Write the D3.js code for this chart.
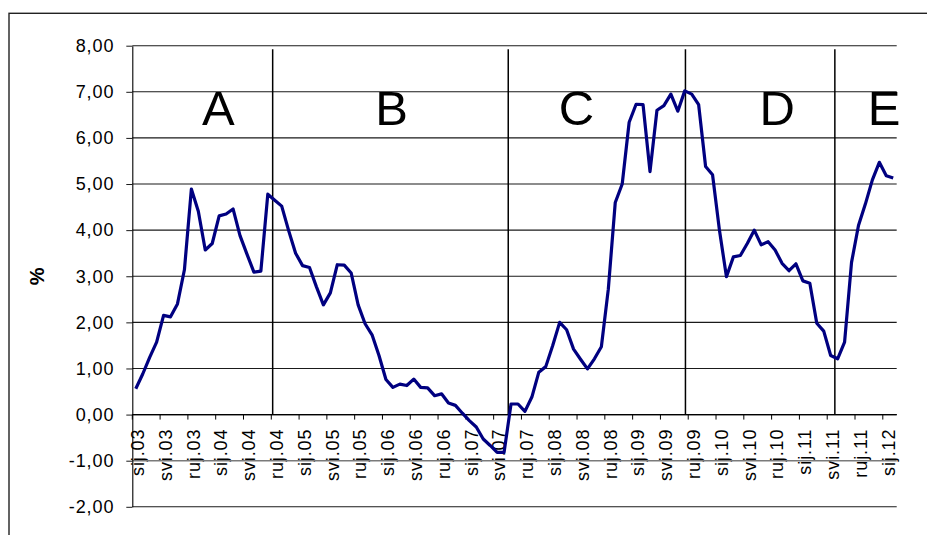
<!DOCTYPE html>
<html lang="hr">
<head>
<meta charset="UTF-8">
<title>Stopa - faze A do E</title>
<script src="https://d3js.org/d3.v7.min.js"></script>
<style>
  body { margin: 0; background: #fff; }
  svg text { font-family: "Liberation Sans", Arial, sans-serif; fill: #000; }
  .tick-label { font-size: 18px; letter-spacing: 0.9px; }
  .phase { font-size: 49px; }
  .axis-title { font-size: 20px; font-weight: bold; }
</style>
</head>
<body>
<div id="chart"></div>
<script>
// month names (Croatian) and years of the series
var monthNames = ["sij", "velj", "ožu", "tra", "svi", "lip", "srp", "kol", "ruj", "lis", "stu", "pro"];
var years = ["03", "04", "05", "06", "07", "08", "09", "10", "11", "12"];

// labels shown under the axis (every 4th month)
var tickLabels = ["sij.03", "svi.03", "ruj.03", "sij.04", "svi.04", "ruj.04", "sij.05", "svi.05", "ruj.05",
  "sij.06", "svi.06", "ruj.06", "sij.07", "svi.07", "ruj.07", "sij.08", "svi.08", "ruj.08",
  "sij.09", "svi.09", "ruj.09", "sij.10", "svi.10", "ruj.10", "sij.11", "svi.11", "ruj.11", "sij.12"];

// monthly values, %, sij.03 .. velj.12
var values = [
  0.56, 0.88, 1.24, 1.57, 2.15, 2.12, 2.40, 3.14, 4.89, 4.41, 3.57, 3.71,
  4.31, 4.35, 4.46, 3.88, 3.48, 3.09, 3.11, 4.78, 4.65, 4.52, 3.99, 3.50,
  3.23, 3.19, 2.77, 2.38, 2.64, 3.25, 3.24, 3.07, 2.38, 1.97, 1.73, 1.28,
  0.76, 0.59, 0.66, 0.63, 0.77, 0.59, 0.58, 0.41, 0.45, 0.25, 0.20, 0.03,
  -0.13, -0.27, -0.53, -0.67, -0.82, -0.82, 0.23, 0.23, 0.07, 0.38, 0.92, 1.04,
  1.50, 2.00, 1.84, 1.42, 1.20, 0.99, 1.21, 1.47, 2.72, 4.60, 5.00, 6.34,
  6.73, 6.72, 5.27, 6.60, 6.70, 6.95, 6.58, 7.02, 6.95, 6.72, 5.38, 5.20,
  3.99, 2.99, 3.42, 3.45, 3.71, 4.00, 3.68, 3.75, 3.57, 3.28, 3.12, 3.27,
  2.90, 2.85, 1.98, 1.81, 1.28, 1.21, 1.57, 3.30, 4.10, 4.57, 5.09, 5.47,
  5.18, 5.13
];

// y axis ticks
var yTicks = [-2, -1, 0, 1, 2, 3, 4, 5, 6, 7, 8];

// phases: letters, where they sit and where each phase ends (in months from sij.03)
var phaseLetters = ["A", "B", "C", "D", "E"];
var phaseLetterAt = [12.4, 37.3, 63.9, 92.8, 108.2];
var phaseBreaks = [20.2, 54.1, 79.6, 101.1];

// build the category list sij.03 .. up to the length of the series
var categories = [];
years.forEach(function (yy) {
  monthNames.forEach(function (m) { categories.push(m + "." + yy); });
});
categories = categories.slice(0, values.length);

var data = categories.map(function (c, i) { return { cat: c, value: values[i] }; });

var W = 927, H = 535;
var plotL = 132.3, plotR = 896.7, plotT = 45.7, plotB = 506.8;

var svg = d3.select("#chart").append("svg")
  .attr("width", W)
  .attr("height", H);

// outer frame (runs off the page on the right and bottom)
svg.append("rect")
  .attr("x", 9).attr("y", 13.3)
  .attr("width", 1000).attr("height", 700)
  .attr("fill", "none")
  .attr("stroke", "#222")
  .attr("stroke-width", 1.4);

var x = d3.scaleBand().domain(categories).range([plotL, plotR]).paddingInner(0).paddingOuter(0);
var y = d3.scaleLinear().domain([-2, 8]).range([plotB, plotT]);
var xc = function (c) { return x(c) + x.bandwidth() / 2; };
var xm = function (m) { return plotL + m * x.bandwidth(); };  // month offset -> pixel

// x labels (drawn before the grid so the -1 line runs over them)
svg.append("g").selectAll("text")
  .data(tickLabels)
  .enter()
  .append("text")
  .attr("class", "tick-label")
  .attr("transform", function (d) { return "translate(" + xc(d) + "," + (y(0) + 14) + ") rotate(-90)"; })
  .attr("dy", "0.46em")
  .attr("text-anchor", "end")
  .text(function (d) { return d; });

// horizontal gridlines
svg.append("g").selectAll("line")
  .data(yTicks)
  .enter()
  .append("line")
  .attr("x1", plotL).attr("x2", plotR)
  .attr("y1", function (d) { return y(d); })
  .attr("y2", function (d) { return y(d); })
  .attr("stroke", function (d) { return d === -1 ? "#7a7a7a" : "#1a1a1a"; })
  .attr("stroke-width", function (d) { return d === -1 ? 1.5 : 1.1; });

// y axis
var yAxis = svg.append("g")
  .attr("transform", "translate(" + plotL + ",0)")
  .call(d3.axisLeft(y).tickValues(yTicks).tickSize(6).tickSizeOuter(0).tickPadding(12)
    .tickFormat(function (d) { return d3.format(".2f")(d).replace(".", ",").replace("\u2212", "-"); }));
yAxis.select(".domain").attr("stroke", "#000").attr("stroke-width", 1.1);
yAxis.selectAll(".tick line").attr("stroke", "#1a1a1a");
yAxis.selectAll(".tick text")
  .attr("class", "tick-label")
  .attr("fill", "#000")
  .style("font-family", "'Liberation Sans', Arial, sans-serif");

// x axis line at zero and tick marks on category boundaries
svg.append("line")
  .attr("x1", plotL).attr("x2", plotR)
  .attr("y1", y(0)).attr("y2", y(0))
  .attr("stroke", "#000").attr("stroke-width", 1.2);

svg.append("g").selectAll("line")
  .data(tickLabels)
  .enter()
  .append("line")
  .attr("x1", function (d) { return x(d); })
  .attr("x2", function (d) { return x(d); })
  .attr("y1", y(0)).attr("y2", y(0) + 5)
  .attr("stroke", "#000");

// phase separators
svg.append("g").selectAll("line")
  .data(phaseBreaks)
  .enter()
  .append("line")
  .attr("x1", function (d) { return xm(d); })
  .attr("x2", function (d) { return xm(d); })
  .attr("y1", y(8) + 3.5).attr("y2", y(0))
  .attr("stroke", "#000").attr("stroke-width", 1.5);

// phase letters
svg.append("g").selectAll("text")
  .data(phaseLetters)
  .enter()
  .append("text")
  .attr("class", "phase")
  .attr("x", function (d, i) { return xm(phaseLetterAt[i]); })
  .attr("y", 125)
  .attr("text-anchor", "middle")
  .text(function (d) { return d; });

// the series
var line = d3.line()
  .x(function (d) { return xc(d.cat); })
  .y(function (d) { return y(d.value); });

svg.append("path")
  .datum(data)
  .attr("d", line)
  .attr("fill", "none")
  .attr("stroke", "#000080")
  .attr("stroke-width", 3.2)
  .attr("stroke-linejoin", "round");

// y axis title
svg.append("text")
  .attr("class", "axis-title")
  .attr("transform", "translate(37," + y(3) + ") rotate(-90)")
  .attr("dy", "0.35em")
  .attr("text-anchor", "middle")
  .text("%");
</script>
</body>
</html>
